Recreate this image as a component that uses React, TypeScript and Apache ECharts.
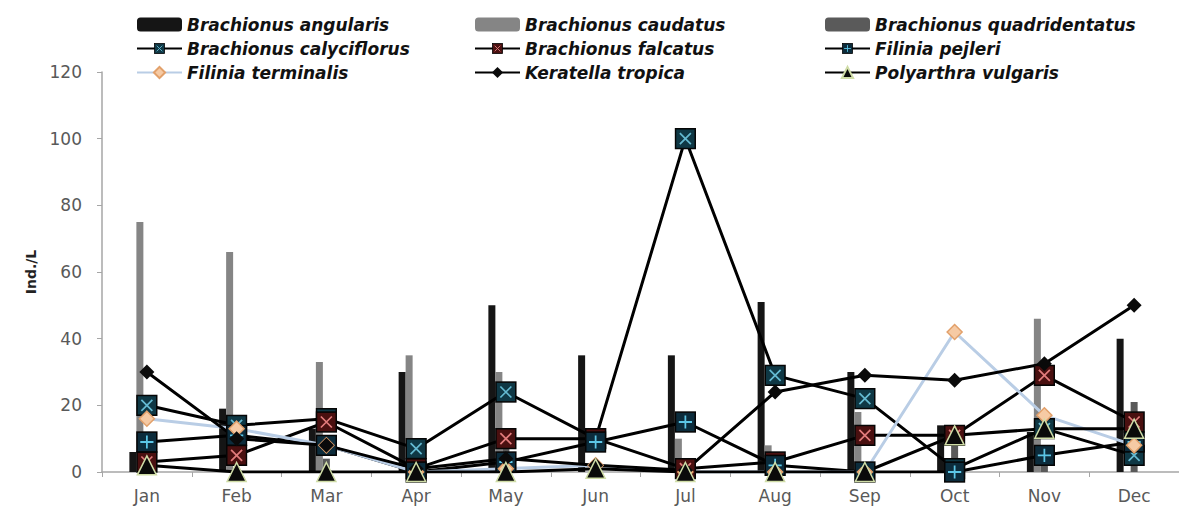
import React, { useEffect, useRef } from "react";
import * as echarts from "echarts";

const months = ["Jan", "Feb", "Mar", "Apr", "May", "Jun", "Jul", "Aug", "Sep", "Oct", "Nov", "Dec"];

// bar series (Ind./L)
const angularis = [6, 19, 13, 30, 50, 35, 35, 51, 30, 14, 12, 40];
const caudatus = [75, 66, 33, 35, 30, 0, 10, 8, 18, 0, 46, 0];
const quadridentatus = [0, 0, 4, 0, 13, 0, 0, 0, 0, 9, 4, 21];

// line series (Ind./L)
const calyciflorus = [20, 14, 16, 7, 24, 10, 100, 29, 22, 1, 13, 5];
const falcatus = [3, 5, 15, 1, 10, 10, 1, 3, 11, 11, 29, 15];
const pejleri = [9, 11, 8, 0, 3, 9, 15, 2, 0, 0, 5, 9];
const terminalis = [16, 13, 8, 0, 1, 2, 0, 0, 0, 42, 17, 8];
const tropica = [30, 10, 8, 1, 4, 2, 0.5, 24, 29, 27.5, 32.5, 50];
const vulgaris = [2, 0, 0, 0, 0, 1, 0, 0, 0, 11, 13, 13];

const yMin = 0;
const yMax = 120;
const yStep = 20;

const svgUri = (svg: string) =>
  "image://data:image/svg+xml;charset=utf-8," + encodeURIComponent(svg);

const squareX = (fill: string, mark: string) =>
  svgUri(
    `<svg xmlns="http://www.w3.org/2000/svg" width="20" height="20" viewBox="0 0 20 20"><rect x="1" y="1" width="18" height="18" fill="${fill}" stroke="#050505" stroke-width="1.4"/><path d="M5 5L15 15M15 5L5 15" stroke="${mark}" stroke-width="1.6"/></svg>`
  );
const squarePlus = (fill: string, mark: string) =>
  svgUri(
    `<svg xmlns="http://www.w3.org/2000/svg" width="20" height="20" viewBox="0 0 20 20"><rect x="1" y="1" width="18" height="18" fill="${fill}" stroke="#050505" stroke-width="1.4"/><path d="M10 4L10 16M4 10L16 10" stroke="${mark}" stroke-width="1.6"/></svg>`
  );

const FONT = "DejaVu Sans";

export default function App() {
  const ref = useRef<HTMLDivElement>(null);

  useEffect(() => {
    if (!ref.current) return;
    const chart = echarts.init(ref.current, null, { renderer: "svg" });

    const lineBase = (name: string, data: number[], color: string, symbol: string, size: number, itemStyle: any = {}) => ({
      name,
      type: "line",
      data,
      symbol,
      symbolSize: size,
      showSymbol: true,
      lineStyle: { color, width: 3 },
      itemStyle: { color: itemStyle.color ?? "#000", borderColor: itemStyle.borderColor, borderWidth: itemStyle.borderWidth ?? 0 },
      emphasis: { disabled: true },
    });

    const barBase = (name: string, data: number[], color: string) => ({
      name,
      type: "bar",
      data,
      barWidth: 7,
      barGap: "0%",
      itemStyle: { color },
      emphasis: { disabled: true },
    });

    const legendCommon = {
      orient: "vertical",
      top: 11,
      itemWidth: 45,
      itemHeight: 14,
      itemGap: 7,
      textStyle: {
        fontFamily: FONT,
        fontSize: 17,
        fontWeight: "bold",
        fontStyle: "italic",
        color: "#111",
      },
      selectedMode: false,
    };

    chart.setOption({
      animation: false,
      backgroundColor: "#fff",
      legend: [
        { ...legendCommon, left: 131, data: ["Brachionus angularis", "Brachionus calyciflorus", "Filinia terminalis"] },
        { ...legendCommon, left: 469, data: ["Brachionus caudatus", "Brachionus falcatus", "Keratella tropica"] },
        { ...legendCommon, left: 819, data: ["Brachionus quadridentatus", "Filinia pejleri", "Polyarthra vulgaris"] },
      ],
      grid: { left: 102, top: 72, width: 1089, bottom: 38, containLabel: false },
      xAxis: {
        type: "category",
        data: months,
        boundaryGap: true,
        axisLine: { lineStyle: { color: "#a6a6a6", width: 1.5 } },
        axisTick: { show: true, length: 5, inside: false, alignWithLabel: false, lineStyle: { color: "#a6a6a6" } },
        axisLabel: { color: "#595959", fontFamily: FONT, fontSize: 17, margin: 15, interval: 0 },
        splitLine: { show: false },
      },
      yAxis: {
        type: "value",
        min: yMin,
        max: yMax,
        interval: yStep,
        name: "Ind./L",
        nameLocation: "middle",
        nameRotate: 90,
        nameGap: 64,
        nameTextStyle: { fontFamily: FONT, fontSize: 14, fontWeight: "bold", color: "#222" },
        axisLine: { show: true, lineStyle: { color: "#a6a6a6", width: 1.5 } },
        axisTick: { show: true, length: 5, lineStyle: { color: "#a6a6a6" } },
        axisLabel: { color: "#595959", fontFamily: FONT, fontSize: 17, margin: 20 },
        splitLine: { show: false },
      },
      series: [
        barBase("Brachionus angularis", angularis, "#151515"),
        barBase("Brachionus caudatus", caudatus, "#858585"),
        barBase("Brachionus quadridentatus", quadridentatus, "#5a5a5a"),
        barBase("pad1", [], "transparent"),
        barBase("pad2", [], "transparent"),
        lineBase("Brachionus calyciflorus", calyciflorus, "#000", squareX("#0f3845", "#63b8d0"), 22),
        lineBase("Brachionus falcatus", falcatus, "#000", squareX("#4a1010", "#e07a7a"), 22),
        lineBase("Filinia pejleri", pejleri, "#000", squarePlus("#0c2c3c", "#5cc6e6"), 22),
        lineBase("Filinia terminalis", terminalis, "#b9cde5", "diamond", 15, { color: "#f6caa4", borderColor: "#e2a06a", borderWidth: 1.5 }),
        lineBase("Keratella tropica", tropica, "#000", "diamond", 15, { color: "#0a0a0a" }),
        lineBase("Polyarthra vulgaris", vulgaris, "#000", "triangle", 19, { color: "#0a0a0a", borderColor: "#cfdca6", borderWidth: 1.5 }),
      ],
    });

    return () => chart.dispose();
  }, []);

  return (
    <div
      ref={ref}
      style={{ position: "absolute", left: 0, top: 0, width: 1179, height: 510 }}
    />
  );
}
